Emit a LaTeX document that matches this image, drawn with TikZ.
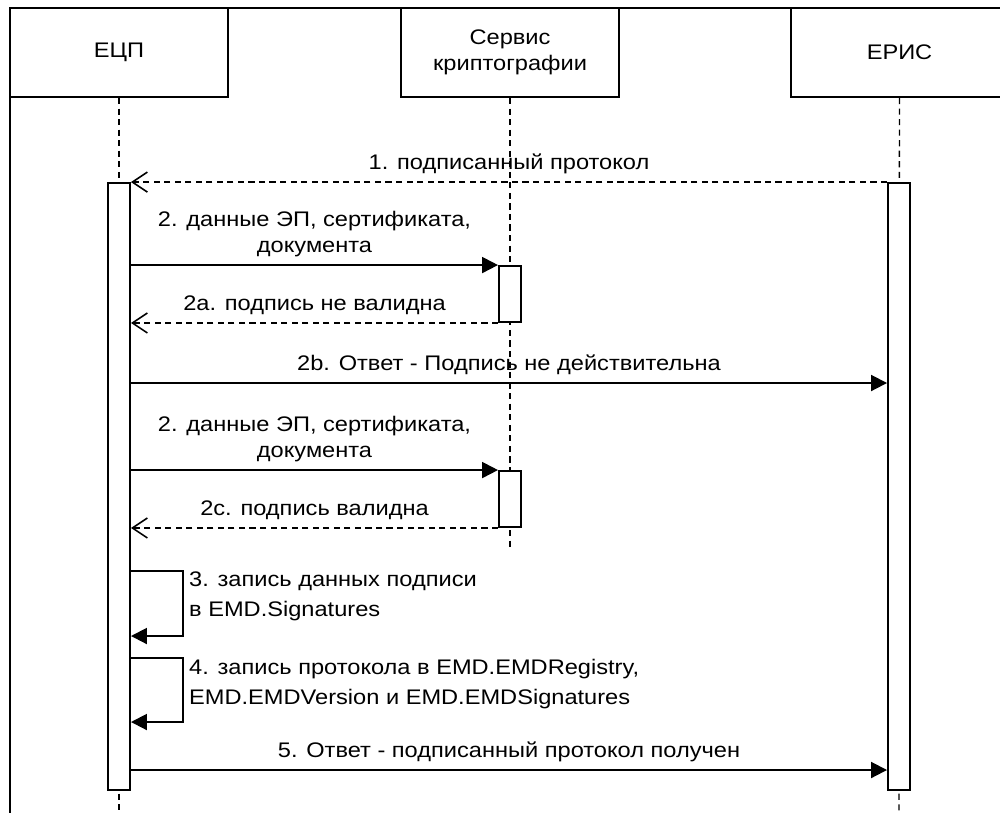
\documentclass[tikz,border=0pt]{standalone}
\usepackage{fontspec}
\setmainfont{Liberation Sans}[FakeStretch=1.12]
\usetikzlibrary{positioning, arrows.meta, calc}

\tikzset{
  actor/.style={draw, line width=1.1pt, fill=white, minimum width=4.36cm,
    minimum height=1.78cm, align=center, font=\fontsize{12}{14.8}\selectfont},
  bar/.style={draw, line width=1.1pt, fill=white, minimum width=0.44cm, inner sep=0pt},
  life/.style={line width=0.8pt, dash pattern=on 3.5pt off 2.5pt},
  msg/.style={line width=1.1pt, -{Triangle[length=0.32cm, width=0.32cm]}},
  reply/.style={line width=0.9pt, dash pattern=on 3.5pt off 2.5pt,
    -{Straight Barb[length=0.3cm, width=0.4cm]}},
  lbl/.style={font=\fontsize{12}{14.8}\selectfont, align=center, above=1pt},
  note/.style={font=\fontsize{12}{17}\selectfont, align=left, anchor=north west, yshift=3pt}
}

\begin{document}
\begin{tikzpicture}[x=0.02cm, y=-0.02cm]
  \useasboundingbox (0,0) rectangle (1000,812);
  \draw[line width=1.3pt] (10,830) |- (1020,8);

  % participants
  \node[actor] (ecp)    at (119,52.5)   {ЕЦП};
  \node[actor] (crypto) at (510,52.5)   {Сервис\\криптографии};
  \node[actor] (eris)   at (899.5,52.5) {ЕРИС};

  \coordinate (ecpend)    at (119,815);
  \coordinate (cryptoend) at (510,548);
  \coordinate (erisend)   at (899,815);
  \draw[life] (ecp) -- (ecpend);
  \draw[life] (crypto) -- (cryptoend);
  \draw[life] (eris) -- (erisend);

  % activation bars
  \node[bar, minimum height=12.14cm] (ecpbar)  at (119,486.5) {};
  \node[bar, minimum height=12.14cm] (erisbar) at (899,486.5) {};
  \node[bar, minimum height=1.12cm]  (check1)  at (510,294)   {};
  \node[bar, minimum height=1.12cm]  (check2)  at (510,499)   {};

  \coordinate (r2b) at (500,383);
  \coordinate (r3a) at (183,571);
  \coordinate (r3b) at (183,636);
  \coordinate (r4a) at (183,658);
  \coordinate (r4b) at (183,722);
  \coordinate (r5)  at (500,770);

  % messages
  \draw[reply] (erisbar.north west) -- node[lbl] {1. подписанный протокол} (ecpbar.north east);
  \draw[msg] (ecpbar.east |- check1.north) -- node[lbl] {2. данные ЭП, сертификата,\\документа} (check1.north west);
  \draw[reply] (check1.south west) -- node[lbl] {2a. подпись не валидна} (ecpbar.east |- check1.south);
  \draw[msg] (ecpbar.east |- r2b) -- node[lbl] {2b. Ответ - Подпись не действительна} (erisbar.west |- r2b);
  \draw[msg] (ecpbar.east |- check2.north) -- node[lbl] {2. данные ЭП, сертификата,\\документа} (check2.north west);
  \draw[reply] (check2.south west) -- node[lbl] {2c. подпись валидна} (ecpbar.east |- check2.south);
  \draw[msg] (ecpbar.east |- r3a) -- (r3a) -- (r3b) -- (ecpbar.east |- r3b);
  \node[note] at (r3a) {3. запись данных подписи\\в EMD.Signatures};
  \draw[msg] (ecpbar.east |- r4a) -- (r4a) -- (r4b) -- (ecpbar.east |- r4b);
  \node[note] at (r4a) {4. запись протокола в EMD.EMDRegistry,\\EMD.EMDVersion и EMD.EMDSignatures};
  \draw[msg] (ecpbar.east |- r5) -- node[lbl] {5. Ответ - подписанный протокол получен} (erisbar.west |- r5);
\end{tikzpicture}
\end{document}
